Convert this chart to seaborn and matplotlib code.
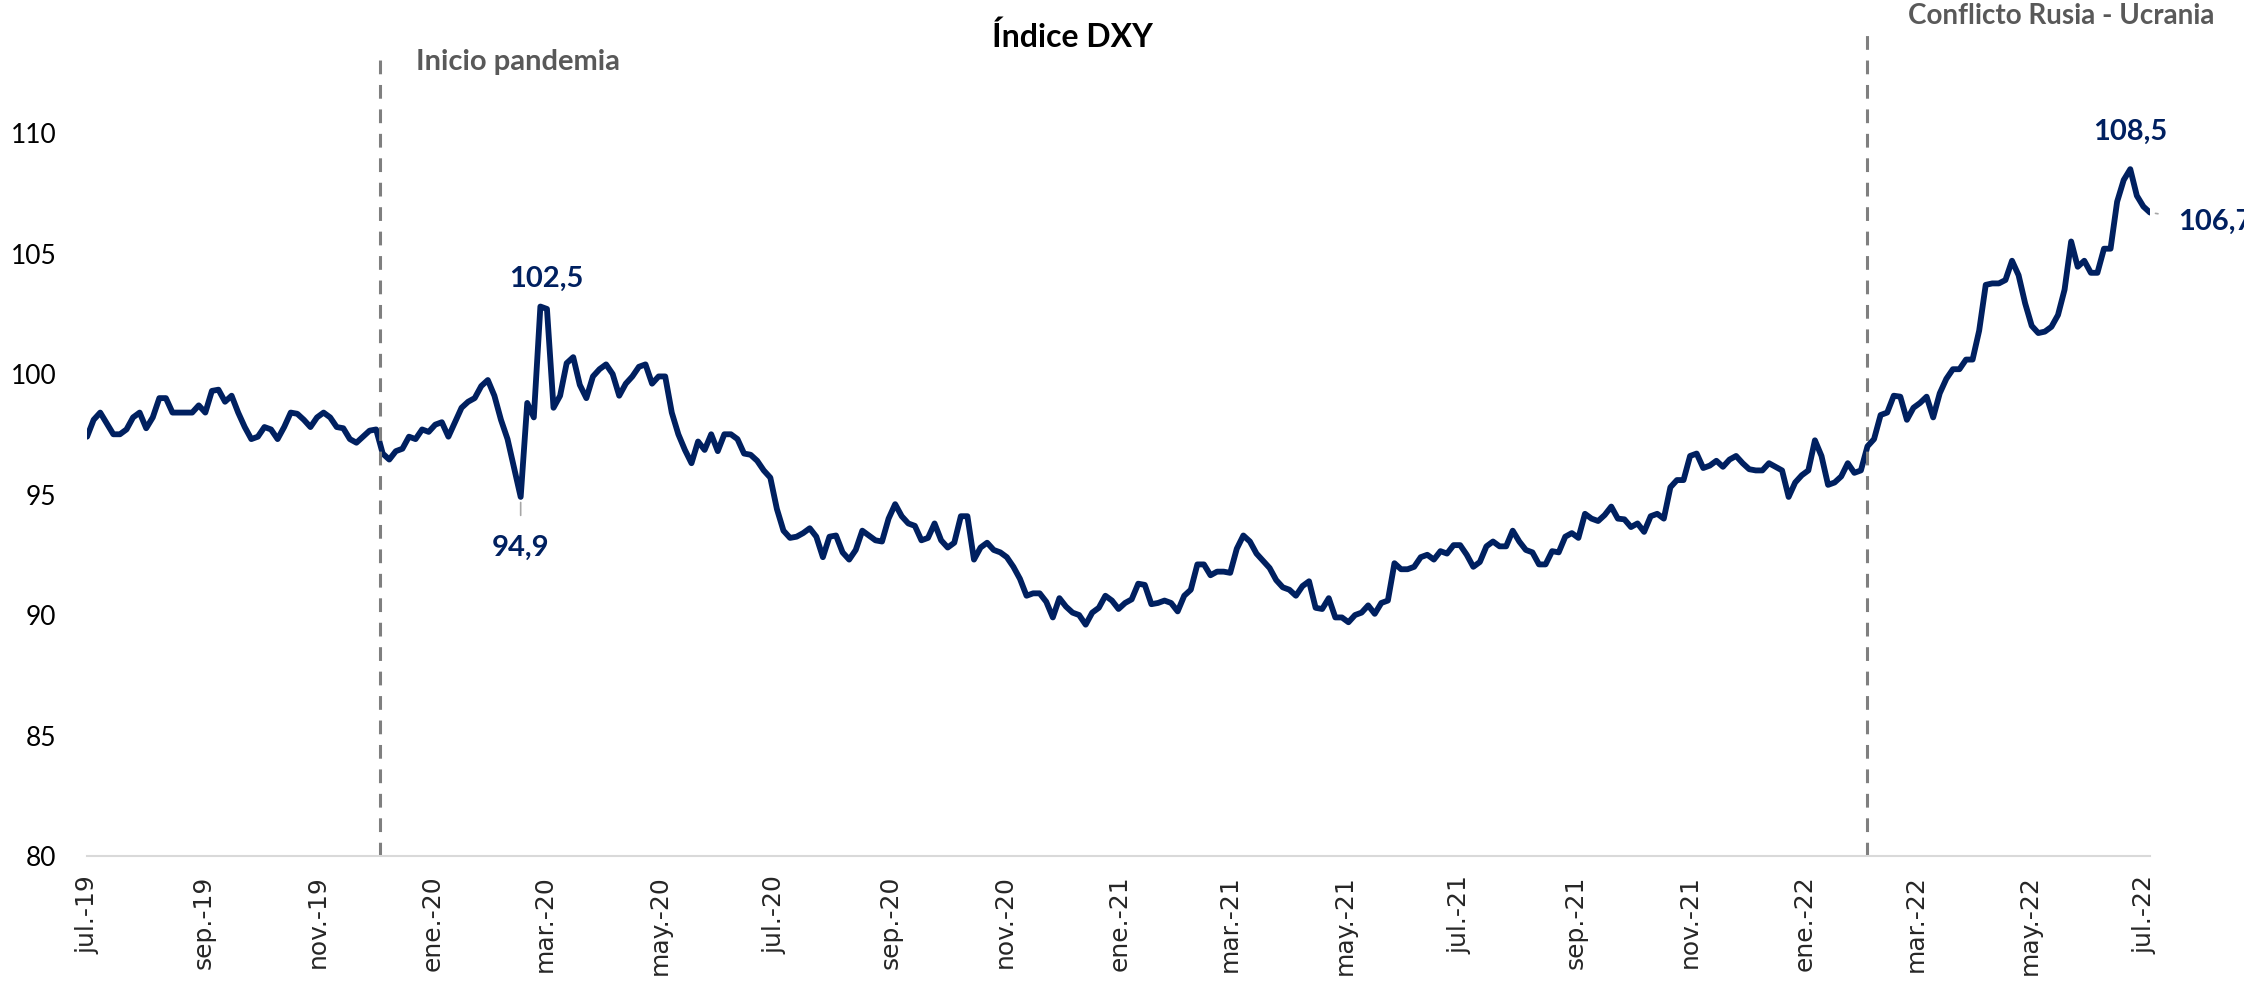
import matplotlib
matplotlib.use("Agg")
import matplotlib.pyplot as plt
import matplotlib.dates as mdates
import matplotlib.transforms as mtransforms
import seaborn as sns
import pandas as pd

# Índice DXY, lecturas cada 3,5 días desde jul-2019
dxy = [
    97.4, 98.1, 98.4, 97.95, 97.5, 97.5, 97.7, 98.2, 98.4, 97.75,
    98.2, 99.0, 99.0, 98.4, 98.4, 98.4, 98.4, 98.7, 98.4, 99.3,
    99.35, 98.85, 99.1, 98.4, 97.8, 97.3, 97.4, 97.8, 97.7, 97.3,
    97.8, 98.4, 98.35, 98.1, 97.8, 98.2, 98.4, 98.2, 97.8, 97.75,
    97.3, 97.15, 97.4, 97.65, 97.7, 96.7, 96.45, 96.8, 96.9, 97.4,
    97.3, 97.7, 97.6, 97.9, 98.0, 97.4, 98.0, 98.6, 98.85, 99.0,
    99.5, 99.75, 99.1, 98.1, 97.3, 96.1, 94.9, 98.8, 98.2, 102.8,
    102.7, 98.6, 99.1, 100.45, 100.7, 99.55, 99.0, 99.9, 100.2, 100.4,
    100.0, 99.1, 99.6, 99.9, 100.3, 100.4, 99.6, 99.9, 99.9, 98.4,
    97.5, 96.85, 96.3, 97.2, 96.85, 97.5, 96.8, 97.5, 97.5, 97.3,
    96.7, 96.65, 96.4, 96.0, 95.7, 94.4, 93.5, 93.2, 93.25, 93.4,
    93.6, 93.25, 92.4, 93.25, 93.3, 92.6, 92.3, 92.7, 93.5, 93.3,
    93.1, 93.05, 94.0, 94.6, 94.1, 93.8, 93.7, 93.1, 93.2, 93.8,
    93.1, 92.8, 93.0, 94.1, 94.1, 92.3, 92.8, 93.0, 92.7, 92.6,
    92.4, 92.0, 91.5, 90.8, 90.9, 90.9, 90.55, 89.9, 90.7, 90.35,
    90.1, 90.0, 89.6, 90.1, 90.3, 90.8, 90.6, 90.25, 90.5, 90.65,
    91.3, 91.25, 90.45, 90.5, 90.6, 90.5, 90.15, 90.8, 91.05, 92.1,
    92.1, 91.65, 91.8, 91.8, 91.75, 92.75, 93.3, 93.05, 92.55, 92.25,
    91.95, 91.45, 91.15, 91.05, 90.8, 91.2, 91.4, 90.3, 90.25, 90.7,
    89.9, 89.9, 89.7, 90.0, 90.1, 90.4, 90.05, 90.5, 90.6, 92.15,
    91.9, 91.9, 92.0, 92.4, 92.5, 92.3, 92.65, 92.55, 92.9, 92.9,
    92.5, 92.0, 92.2, 92.85, 93.05, 92.85, 92.85, 93.5, 93.05, 92.7,
    92.6, 92.1, 92.1, 92.65, 92.6, 93.25, 93.4, 93.2, 94.2, 94.0,
    93.9, 94.15, 94.5, 94.0, 93.97, 93.65, 93.8, 93.45, 94.1, 94.2,
    94.0, 95.3, 95.6, 95.6, 96.6, 96.7, 96.1, 96.2, 96.4, 96.15,
    96.45, 96.6, 96.3, 96.05, 96.0, 96.0, 96.3, 96.15, 96.0, 94.9,
    95.5, 95.8, 96.0, 97.25, 96.6, 95.4, 95.5, 95.75, 96.3, 95.9,
    96.0, 97.0, 97.3, 98.3, 98.4, 99.1, 99.06, 98.1, 98.6, 98.8,
    99.06, 98.2, 99.2, 99.8, 100.2, 100.2, 100.6, 100.6, 101.8, 103.7,
    103.76, 103.76, 103.9, 104.7, 104.1, 102.93, 102.0, 101.7, 101.76, 101.96,
    102.45, 103.5, 105.5, 104.45, 104.7, 104.2, 104.2, 105.2, 105.2, 107.15,
    108.05, 108.5, 107.4, 106.95, 106.7,
]
fechas = pd.date_range("2019-07-01", periods=len(dxy), freq="84h")

tick_fechas = pd.date_range("2019-07-01", "2022-07-01", freq="2MS")
tick_labels = ["jul.-19", "sep.-19", "nov.-19", "ene.-20", "mar.-20", "may.-20",
               "jul.-20", "sep.-20", "nov.-20", "ene.-21", "mar.-21", "may.-21",
               "jul.-21", "sep.-21", "nov.-21", "ene.-22", "mar.-22", "may.-22",
               "jul.-22"]
y_ticks = [80, 85, 90, 95, 100, 105, 110]

eventos = ["Inicio pandemia", "Conflicto Rusia - Ucrania"]
eventos_fecha = pd.to_datetime(["2019-12-04", "2022-02-03"])

# etiquetas de valores: (indice, texto)
etiquetas = [(69, "102,5"), (66, "94,9"), (311, "108,5"), (314, "106,7")]

AZUL = "#002060"
GRIS = "#7f7f7f"

sns.set_style("white")
plt.rcParams["font.family"] = ["Lato", "DejaVu Sans"]

df = pd.DataFrame({"fecha": fechas, "dxy": dxy})

fig = plt.figure(figsize=(22.44, 9.81), dpi=100)
ax = fig.add_axes([0.0388, 0.1274, 0.9193, 0.737])

sns.lineplot(data=df, x="fecha", y="dxy", ax=ax, color=AZUL, linewidth=4.2)

ax.set_ylim(80, 110)
ax.set_xlim(fechas[0], fechas[-1])
ax.set_yticks(y_ticks)
ax.set_yticklabels([str(v) for v in y_ticks], fontsize=19, color="#000000")
ax.set_xticks(tick_fechas)
ax.set_xticklabels(tick_labels, rotation=90, fontsize=18, family="DejaVu Sans")
ax.tick_params(axis="y", length=0, pad=22)
ax.tick_params(axis="x", length=0, pad=14)
ax.set_xlabel("")
ax.set_ylabel("")

for s in ["top", "right", "left"]:
    ax.spines[s].set_visible(False)
ax.spines["bottom"].set_color("#d9d9d9")
ax.spines["bottom"].set_linewidth(1.5)

# lineas de eventos
tops = [1.11, 1.15]
text_off = [(26, 51), (30, 84)]
text_size = [21, 20]
trans = mtransforms.blended_transform_factory(ax.transData, ax.transAxes)
for nombre, f, top, off, fs in zip(eventos, eventos_fecha, tops, text_off, text_size):
    ax.axvline(f, ymin=0, ymax=top, color=GRIS, lw=2.2,
               linestyle=(0, (4.5, 3.5)), clip_on=False)
    ax.annotate(nombre, xy=(mdates.date2num(f), 1.0), xycoords=trans, xytext=off,
                textcoords="offset points", ha="left", va="center",
                fontsize=fs, fontweight="bold", color="#595959")

# etiquetas de datos
offsets = {69: (4, 20), 66: (0, -37), 311: (0, 27), 314: (20, -7)}
for i, txt in etiquetas:
    dx, dy = offsets[i]
    ha = "left" if i == 314 else "center"
    leader = i in (66, 314)
    ax.annotate(txt, xy=(mdates.date2num(fechas[i]), dxy[i]), xytext=(dx, dy),
                textcoords="offset points", ha=ha, va="center",
                fontsize=21, fontweight="bold", color=AZUL,
                arrowprops=dict(arrowstyle="-", color="#a6a6a6", lw=1.2,
                                shrinkA=12, shrinkB=4) if leader else None)

fig.text(0.478, 0.963, "Índice DXY", ha="center", va="center",
         fontsize=23, fontweight="bold", color="#000000")

fig.savefig("out.png", dpi=100, facecolor="white")
